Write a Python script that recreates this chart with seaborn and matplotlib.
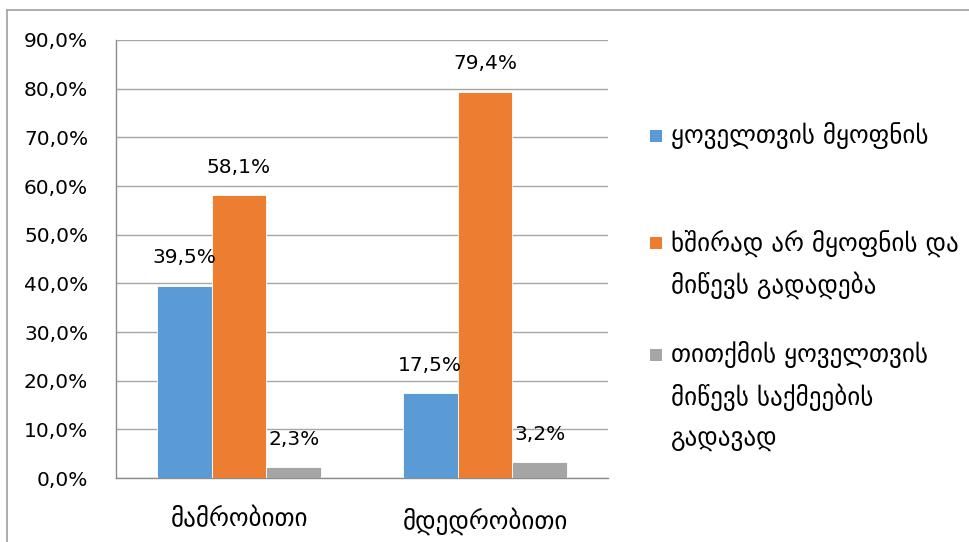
import matplotlib
matplotlib.use("Agg")
import matplotlib.pyplot as plt
import seaborn as sns
import pandas as pd
import numpy as np
from matplotlib.patches import Rectangle
from matplotlib.lines import Line2D

categories = ["მამრობითი", "მდედრობითი"]
series = [
    "ყოველთვის მყოფნის",
    "ხშირად არ მყოფნის და\nმიწევს გადადება",
    "თითქმის ყოველთვის\nმიწევს საქმეების\nგადავად",
]
values_always = [39.5, 17.5]
values_often = [58.1, 79.4]
values_almost = [2.3, 3.2]
colors = ["#5B9BD5", "#ED7D31", "#A5A5A5"]
yticks = [0, 10, 20, 30, 40, 50, 60, 70, 80, 90]

sns.set_style("white")
plt.rcParams["font.family"] = ["DejaVu Sans"]

rows = []
for s, vals in zip(series, [values_always, values_often, values_almost]):
    for c, v in zip(categories, vals):
        rows.append({"cat": c, "series": s, "val": v})
df = pd.DataFrame(rows)

W, H = 969, 542
fig = plt.figure(figsize=(W / 100, H / 100), dpi=100)
ax = fig.add_axes([116 / W, 1 - 478 / H, (608 - 116) / W, (478 - 40) / H])

sns.barplot(data=df, x="cat", y="val", hue="series", hue_order=series,
            order=categories, palette=colors, saturation=1, width=0.667, gap=0,
            edgecolor="white", linewidth=0.6, legend=False, ax=ax, zorder=3)

ax.set_ylim(0, 90)
ax.set_xlim(-0.5, 1.5)
ax.set_yticks(yticks)
ax.set_yticklabels([f"{t:.1f}%".replace(".", ",") for t in yticks], fontsize=14.5)
ax.grid(axis="y", color="#A6A6A6", linewidth=1.0, zorder=0)
ax.set_axisbelow(True)
ax.set_xlabel("")
ax.set_ylabel("")
for side in ["top", "right"]:
    ax.spines[side].set_visible(False)
for side in ["left", "bottom"]:
    ax.spines[side].set_color("#8C8C8C")
    ax.spines[side].set_linewidth(1.0)
ax.tick_params(axis="y", length=6, width=1, color="#8C8C8C", pad=14, labelcolor="black")
ax.tick_params(axis="x", which="major", length=0, labelsize=18, pad=21, labelcolor="black")
ax.set_xticks([-0.5, 0.5, 1.5], minor=True)
ax.tick_params(axis="x", which="minor", length=6, width=1, color="#8C8C8C")

for cont in ax.containers:
    for bar in cont:
        h = bar.get_height()
        ax.annotate(f"{h:.1f}%".replace(".", ","),
                    (bar.get_x() + bar.get_width() / 2, h),
                    xytext=(0, 20), textcoords="offset points",
                    ha="center", va="center", fontsize=14.5, color="black",
                    zorder=5)

# legend (manual, handles aligned with first line)
first_line_y = [136, 243, 355]
line_gap = 42
for s, c, y0 in zip(series, colors, first_line_y):
    fig.patches.append(Rectangle((650 / W, 1 - (y0 + 6) / H), 12 / W, 12 / H,
                                 transform=fig.transFigure, facecolor=c,
                                 edgecolor="none"))
    for i, line in enumerate(s.split("\n")):
        fig.text(671 / W, 1 - (y0 + i * line_gap) / H, line, fontsize=18,
                 ha="left", va="center", color="black")

# chart border (top and left visible)
fig.add_artist(Line2D([7 / W, 1], [1 - 10 / H, 1 - 10 / H], color="#A0A0A0",
                      linewidth=1.2, transform=fig.transFigure))
fig.add_artist(Line2D([7 / W, 7 / W], [0, 1 - 10 / H], color="#A0A0A0",
                      linewidth=1.2, transform=fig.transFigure))

fig.savefig("out.png", dpi=100)
